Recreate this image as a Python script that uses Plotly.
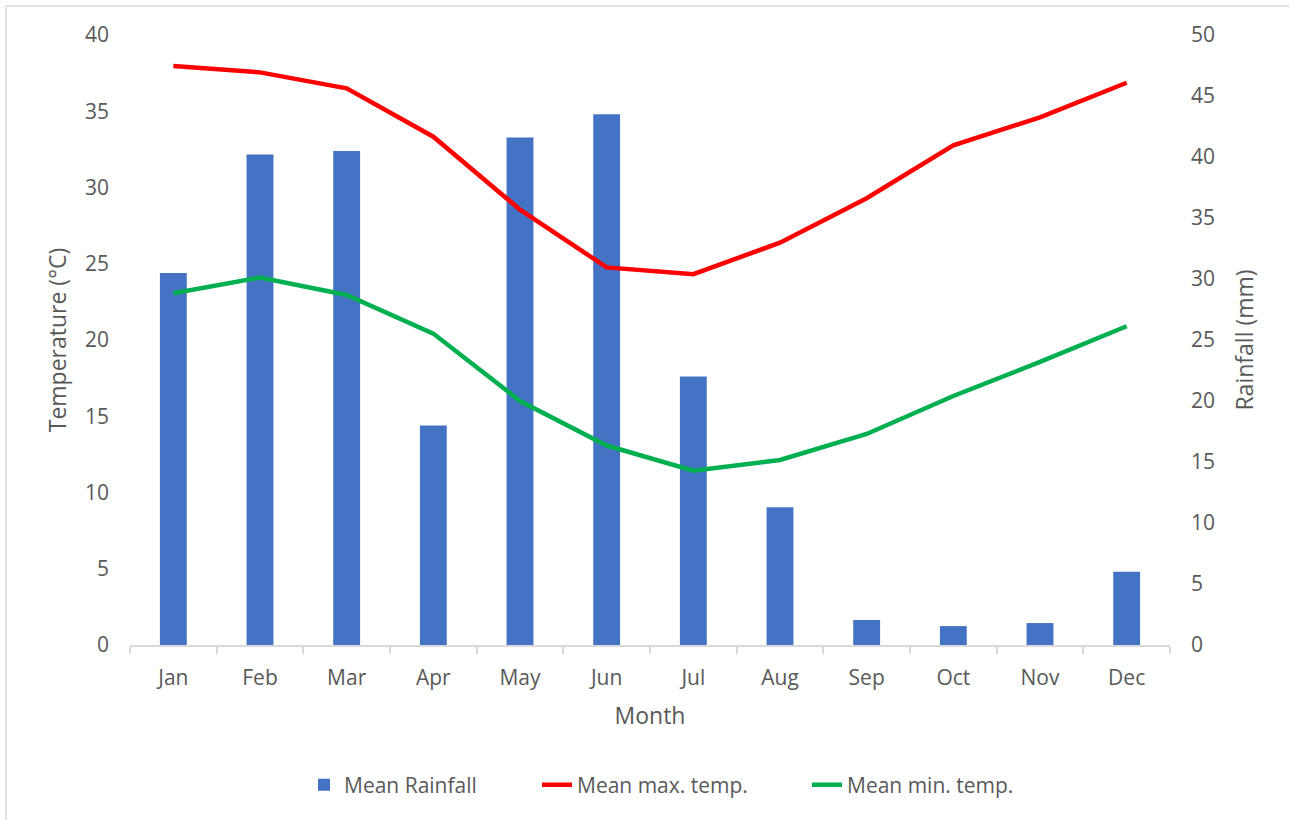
import plotly.graph_objects as go

months = ["Jan", "Feb", "Mar", "Apr", "May", "Jun", "Jul", "Aug", "Sep", "Oct", "Nov", "Dec"]
mean_rainfall = [30.5, 40.2, 40.5, 18.0, 41.6, 43.5, 22.0, 11.3, 2.05, 1.55, 1.8, 6.0]
mean_max_temp = [37.97, 37.55, 36.5, 33.33, 28.55, 24.76, 24.32, 26.38, 29.3, 32.77, 34.6, 36.87]
mean_min_temp = [23.07, 24.1, 22.95, 20.42, 16.0, 13.08, 11.43, 12.13, 13.84, 16.33, 18.56, 20.9]

FONT = "Open Sans"
GREY_TEXT = "#595959"
AXIS_GREY = "#d9d9d9"
TICK_SIZE = 21
TITLE_SIZE = 23

fig = go.Figure()

fig.add_trace(go.Bar(
    x=months, y=mean_rainfall, name="Mean Rainfall",
    marker=dict(color="#4472C4", line=dict(width=0)),
    width=0.31, yaxis="y", legend="legend",
))
fig.add_trace(go.Scatter(
    x=months, y=mean_max_temp, name="Mean max. temp.", mode="lines",
    line=dict(color="#FF0000", width=4.5), yaxis="y2", legend="legend2",
))
fig.add_trace(go.Scatter(
    x=months, y=mean_min_temp, name="Mean min. temp.", mode="lines",
    line=dict(color="#00B050", width=4.5), yaxis="y2", legend="legend3",
))

# plot area spans x 130..1170 px, y 35..645 px
L, R, T, B = 130, 1170, 35, 645
W, H = 1289, 820


def px_to_paper_x(px):
    return (px - L) / (R - L)


def px_to_paper_y(py):
    return (B - py) / (B - T)


def legend_at(px):
    return dict(
        orientation="h", x=px_to_paper_x(px), xanchor="left",
        y=px_to_paper_y(785), yanchor="middle",
        font=dict(size=TICK_SIZE, color=GREY_TEXT), bgcolor="rgba(0,0,0,0)",
    )


fig.update_layout(
    width=W, height=H,
    margin=dict(l=L, r=W - R, t=T, b=H - B),
    paper_bgcolor="white", plot_bgcolor="white",
    font=dict(family=FONT, color=GREY_TEXT, size=TICK_SIZE),
    showlegend=True,
    legend=legend_at(304),
    legend2=legend_at(537),
    legend3=legend_at(807),
    xaxis=dict(
        type="category", showgrid=False, showline=True, linecolor=AXIS_GREY, linewidth=1.5,
        ticks="outside", tickson="boundaries", ticklen=7, tickcolor=AXIS_GREY, tickwidth=1.5,
        tickfont=dict(size=TICK_SIZE, color=GREY_TEXT), ticklabelstandoff=13,
        title=dict(text="Month", font=dict(size=TITLE_SIZE, color=GREY_TEXT), standoff=18),
        zeroline=False,
    ),
    yaxis=dict(
        side="right", range=[0, 50], dtick=5, showgrid=False, zeroline=False,
        showline=False, ticks="", tickfont=dict(size=TICK_SIZE, color=GREY_TEXT),
        ticklabelstandoff=20,
        title=dict(text="Rainfall (mm)", font=dict(size=TITLE_SIZE, color=GREY_TEXT), standoff=22),
    ),
    yaxis2=dict(
        side="left", overlaying="y", range=[0, 40], dtick=5, showgrid=False,
        zeroline=False, showline=False, ticks="", tickfont=dict(size=TICK_SIZE, color=GREY_TEXT),
        ticklabelstandoff=20,
        title=dict(text="Temperature (°C)", font=dict(size=TITLE_SIZE, color=GREY_TEXT), standoff=11),
    ),
    shapes=[dict(
        type="rect", xref="paper", yref="paper",
        x0=px_to_paper_x(6), x1=px_to_paper_x(W + 6),
        y0=px_to_paper_y(H + 6), y1=px_to_paper_y(6),
        line=dict(color=AXIS_GREY, width=1.5), fillcolor="rgba(0,0,0,0)", layer="below",
    )],
)

fig.write_html("out.html")
